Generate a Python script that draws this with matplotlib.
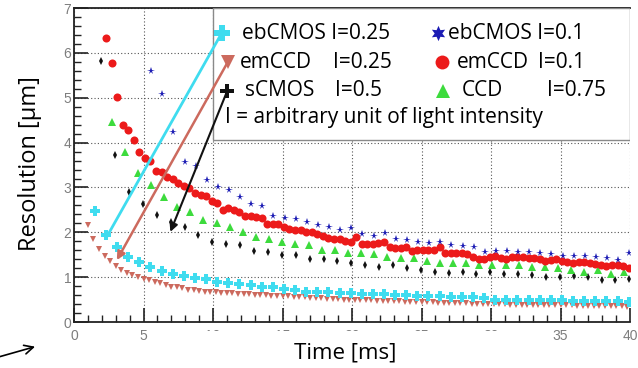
import numpy as np
import matplotlib
matplotlib.use("Agg")
import matplotlib.pyplot as plt
from matplotlib.patches import Rectangle, FancyArrowPatch
from matplotlib.ticker import MultipleLocator

plt.rcParams['font.family'] = 'Open Sans'

# ebCMOS I=0.25 (start 1.5 ms, every 0.8 ms)
eb25_t0, eb25_dt = 1.5, 0.8
eb25 = [2.48, 1.94, 1.68, 1.45, 1.34, 1.23, 1.14, 1.08, 1.02, 0.99,
        0.95, 0.90, 0.88, 0.85, 0.83, 0.79, 0.77, 0.74, 0.71, 0.67,
        0.67, 0.66, 0.65, 0.64, 0.63, 0.62, 0.62, 0.61, 0.60, 0.59,
        0.58, 0.57, 0.56, 0.55, 0.55, 0.53, 0.50, 0.50, 0.49, 0.49,
        0.49, 0.48, 0.48, 0.47, 0.47, 0.47, 0.46, 0.46, 0.45]

# emCCD I=0.25 (start 1.0 ms, every 0.4 ms)
em25_t0, em25_dt = 1.0, 0.4
em25 = [2.16, 1.85, 1.63, 1.47, 1.35, 1.25, 1.16, 1.10, 1.05, 1.00,
        0.97, 0.93, 0.90, 0.86, 0.83, 0.79, 0.77, 0.75, 0.72, 0.71,
        0.69, 0.68, 0.67, 0.66, 0.65, 0.65, 0.64, 0.63, 0.62, 0.62,
        0.61, 0.60, 0.60, 0.59, 0.58, 0.58, 0.57, 0.56, 0.56, 0.55,
        0.54, 0.54, 0.53, 0.52, 0.52, 0.51, 0.50, 0.50, 0.49, 0.49,
        0.48, 0.48, 0.47, 0.47, 0.47, 0.46, 0.46, 0.45, 0.45, 0.45,
        0.44, 0.44, 0.44, 0.43, 0.43, 0.43, 0.42, 0.42, 0.42, 0.41,
        0.41, 0.41, 0.41, 0.40, 0.40, 0.40, 0.39, 0.39, 0.39, 0.39,
        0.38, 0.38, 0.38, 0.38, 0.37, 0.37, 0.37, 0.37, 0.36, 0.36,
        0.36, 0.36, 0.36, 0.35, 0.35, 0.35, 0.35, 0.34]

# sCMOS I=0.5 (start 1.95 ms, every 1 ms)
sc50_t0, sc50_dt = 1.95, 1.0
sc50 = [5.82, 3.72, 2.90, 2.64, 2.38, 2.23, 2.11, 1.94, 1.79, 1.75,
        1.71, 1.59, 1.57, 1.49, 1.49, 1.40, 1.40, 1.37, 1.32, 1.27,
        1.22, 1.27, 1.20, 1.17, 1.12, 1.10, 1.12, 1.08, 1.12, 1.07,
        1.07, 1.05, 1.00, 1.01, 1.02, 1.00, 0.94, 0.94, 0.97]

# ebCMOS I=0.1 (start 5.55 ms, every 0.8 ms)
eb10_t0, eb10_dt = 5.55, 0.8
eb10 = [5.59, 5.09, 4.24, 3.56, 3.48, 3.16, 3.00, 2.94, 2.78, 2.64,
        2.58, 2.36, 2.33, 2.29, 2.23, 2.16, 2.12, 2.06, 2.09, 1.96,
        1.92, 1.98, 1.86, 1.83, 1.79, 1.77, 1.79, 1.71, 1.69, 1.68,
        1.57, 1.59, 1.59, 1.57, 1.57, 1.54, 1.51, 1.47, 1.47, 1.47,
        1.44, 1.42, 1.38, 1.53]

# emCCD I=0.1 (start 2.3 ms, every 0.4 ms)
em10_t0, em10_dt = 2.3, 0.4
em10 = [6.33, 5.78, 5.02, 4.40, 4.28, 4.05, 3.80, 3.66, 3.58, 3.36,
        3.34, 3.24, 3.18, 3.10, 3.04, 2.99, 2.87, 2.84, 2.82, 2.69,
        2.66, 2.50, 2.55, 2.50, 2.46, 2.36, 2.36, 2.35, 2.32, 2.19,
        2.19, 2.18, 2.11, 2.08, 2.06, 2.05, 2.01, 2.00, 1.97, 1.92,
        1.88, 1.84, 1.86, 1.80, 1.79, 1.90, 1.75, 1.74, 1.74, 1.76,
        1.79, 1.68, 1.66, 1.64, 1.67, 1.59, 1.60, 1.60, 1.60, 1.61,
        1.68, 1.54, 1.53, 1.53, 1.53, 1.52, 1.45, 1.40, 1.41, 1.44,
        1.48, 1.42, 1.40, 1.46, 1.45, 1.44, 1.43, 1.42, 1.40, 1.37,
        1.39, 1.40, 1.35, 1.33, 1.32, 1.33, 1.34, 1.32, 1.29, 1.26,
        1.25, 1.28, 1.27, 1.24, 1.20]

# CCD I=0.75 (start 2.7 ms, every 0.945 ms)
ccd75_t0, ccd75_dt = 2.7, 0.945
ccd75 = [4.47, 3.78, 3.33, 3.05, 2.78, 2.57, 2.46, 2.27, 2.21, 2.12,
         2.01, 1.90, 1.86, 1.79, 1.74, 1.71, 1.60, 1.60, 1.53, 1.53,
         1.51, 1.45, 1.42, 1.42, 1.37, 1.32, 1.32, 1.32, 1.27, 1.27,
         1.27, 1.27, 1.22, 1.22, 1.20, 1.16, 1.12, 1.16, 1.08, 1.12]


def times(t0, dt, vals):
    return t0 + dt * np.arange(len(vals))


c_cyan = '#3fdcef'
c_salmon = '#cc6a5e'
c_black = '#111111'
c_blue = '#1c1cb4'
c_red = '#ec1a1a'
c_green = '#3ddb3d'

fig = plt.figure(figsize=(6.38, 3.68), dpi=100)
ax = fig.add_axes([0.116, 0.125, 0.8715, 0.853])

ax.plot(times(em25_t0, em25_dt, em25), em25, 'v', color=c_salmon, ms=4.5, mew=0)
ax.plot(times(eb25_t0, eb25_dt, eb25), eb25, 'P', color=c_cyan, ms=6.5, mew=0)
ax.plot(times(sc50_t0, sc50_dt, sc50), sc50, 'd', color=c_black, ms=4, mew=0)
ax.plot(times(ccd75_t0, ccd75_dt, ccd75), ccd75, '^', color=c_green, ms=5.5, mew=0)
ax.plot(times(em10_t0, em10_dt, em10), em10, 'o', color=c_red, ms=5.8, mew=0)
ax.plot(times(eb10_t0, eb10_dt, eb10), eb10, '*', color=c_blue, ms=5.5, mew=0)

ax.set_xlim(0, 40)
ax.set_ylim(0, 7)
ax.xaxis.set_major_locator(MultipleLocator(5))
ax.xaxis.set_minor_locator(MultipleLocator(1))
ax.yaxis.set_major_locator(MultipleLocator(1))
ax.yaxis.set_minor_locator(MultipleLocator(0.2))
ax.tick_params(which='both', direction='in', top=False, right=False,
               labelsize=10, labelcolor='#7d7d7d', color='#222222')
ax.tick_params(which='major', length=10, width=1.2)
ax.tick_params(which='minor', length=5, width=1.0)
ax.tick_params(axis='x', pad=5)
ax.tick_params(axis='y', pad=2)
for lab in ax.get_xticklabels() + ax.get_yticklabels():
    lab.set_fontfamily('Liberation Sans')
ax.grid(True, which='major', color='#555555', linestyle=(0, (1, 2)), lw=0.8)
ax.spines['right'].set_visible(False)
for s in ['left', 'bottom', 'top']:
    ax.spines[s].set_linewidth(1.3)
    ax.spines[s].set_color('#222222')

ax.set_xlabel('Time [ms]', fontsize=16)
ax.set_ylabel('Resolution [µm]', fontsize=17)
ax.xaxis.set_label_coords(0.487, -0.066)
ax.yaxis.set_label_coords(-0.058, 0.505)

# legend box with pointers to the curves
box = Rectangle((0.25, 0.58), 0.75, 0.42, transform=ax.transAxes,
                facecolor='white', edgecolor='#8a8a8a', lw=1.0, zorder=5)
ax.add_patch(box)

arrow_kw = dict(arrowstyle='-|>', mutation_scale=12, shrinkA=0, shrinkB=0)
ax.add_patch(FancyArrowPatch((10.62, 6.44), (2.34, 1.89), arrowstyle='-',
                             color=c_cyan, lw=2.0, zorder=6,
                             shrinkA=0, shrinkB=0))
ax.add_patch(FancyArrowPatch((11.05, 5.79), (3.08, 1.38), color=c_salmon,
                             lw=1.8, zorder=6, **arrow_kw))
ax.add_patch(FancyArrowPatch((10.98, 5.12), (6.93, 2.01), color=c_black,
                             lw=1.5, zorder=6, **arrow_kw))

rows = [0.920, 0.828, 0.736]
leg_kw = dict(transform=ax.transAxes, clip_on=False, zorder=7, mew=0,
              linestyle='none')
ax.plot([0.266], [rows[0]], marker='P', color=c_cyan, ms=11, **leg_kw)
ax.plot([0.277], [rows[1]], marker='v', color=c_salmon, ms=10, **leg_kw)
ax.plot([0.275], [rows[2]], marker='P', color=c_black, ms=10, **leg_kw)
ax.plot([0.655], [rows[0]], marker=(6, 1, 0), color=c_blue, ms=11, **leg_kw)
ax.plot([0.662], [rows[1]], marker='o', color=c_red, ms=10, **leg_kw)
ax.plot([0.664], [rows[2]], marker='^', color=c_green, ms=10, **leg_kw)

txt_kw = dict(transform=ax.transAxes, fontsize=15, va='center', zorder=7)
ax.text(0.302, rows[0], 'ebCMOS I=0.25', **txt_kw)
ax.text(0.299, rows[1], 'emCCD', **txt_kw)
ax.text(0.466, rows[1], 'I=0.25', **txt_kw)
ax.text(0.308, rows[2], 'sCMOS', **txt_kw)
ax.text(0.469, rows[2], 'I=0.5', **txt_kw)
ax.text(0.673, rows[0], 'ebCMOS I=0.1', **txt_kw)
ax.text(0.689, rows[1], 'emCCD', **txt_kw)
ax.text(0.835, rows[1], 'I=0.1', **txt_kw)
ax.text(0.698, rows[2], 'CCD', **txt_kw)
ax.text(0.851, rows[2], 'I=0.75', **txt_kw)
ax.text(0.272, 0.653, 'I = arbitrary unit of light intensity', **txt_kw)

# middle x tick labels are half hidden
fig.add_artist(Rectangle((0.274, 0.075), 0.565, 0.0255, transform=fig.transFigure,
                         facecolor='white', edgecolor='none', zorder=3))

# hand drawn arrow in the lower left corner
fig.add_artist(FancyArrowPatch((0.0, 0.031), (0.055, 0.058),
                               transform=fig.transFigure, arrowstyle='->',
                               mutation_scale=16, lw=1.2, color='black',
                               shrinkA=0, shrinkB=0))

fig.savefig('out.png', dpi=100)
